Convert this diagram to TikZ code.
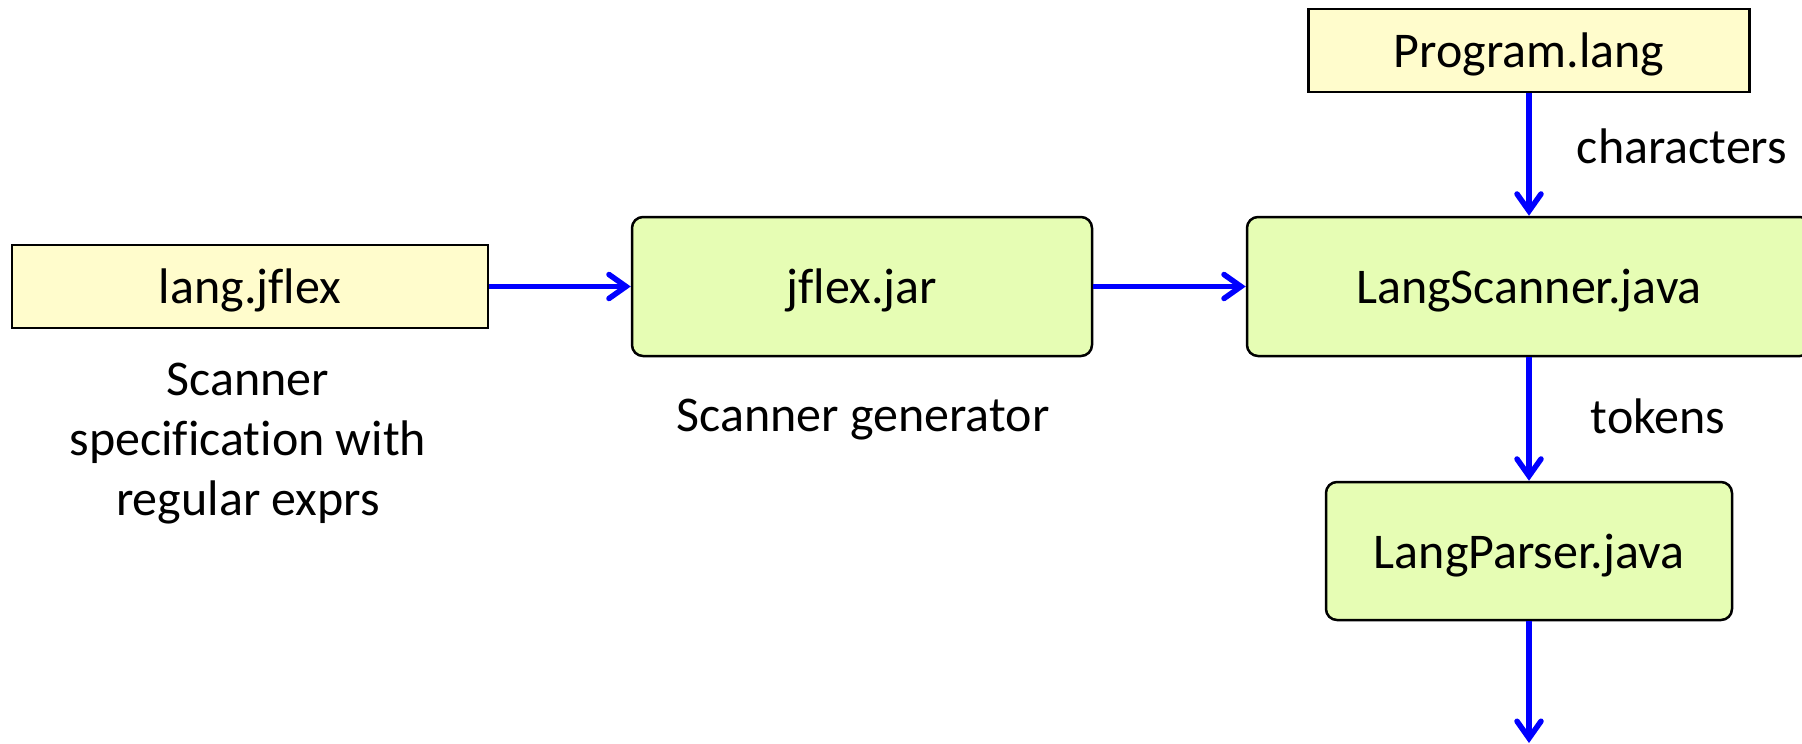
\documentclass[tikz,border=0pt]{standalone}
\usepackage{fontspec}
\setmainfont{Carlito}[Ligatures={NoCommon}]
\usetikzlibrary{arrows.meta}
\definecolor{fileyellow}{RGB}{255,252,204}
\definecolor{progreen}{RGB}{230,253,180}
\definecolor{arrowblue}{RGB}{0,0,255}
\begin{document}
\begin{tikzpicture}[x=1pt,y=-1pt,
  every node/.style={font=\fontsize{50}{60}\selectfont, inner sep=0pt},
  filebox/.style={draw=black, line width=2.5pt, fill=fileyellow, rectangle,
    text height=42pt, text depth=8pt},
  progbox/.style={draw=black, line width=2.5pt, fill=progreen, rectangle,
    rounded corners=11pt, text height=42pt, text depth=8pt},
  flow/.style={draw=arrowblue, line width=5.5pt,
    -{Straight Barb[length=17pt, width=24pt, line cap=round]}},
  lbl/.style={align=center}
]
\useasboundingbox (0,0) rectangle (1802,744);

\node[filebox, minimum width=476pt, minimum height=83pt] (lang) at (250,286.5) {lang.jflex};
\node[progbox, minimum width=460pt, minimum height=139pt] (jflex) at (862,286.5) {jflex.jar};
\node[progbox, minimum width=564pt, minimum height=139pt] (scan) at (1529,286.5) {LangScanner.java};
\node[filebox, minimum width=441pt, minimum height=83pt] (prog) at (1529,50.5) {Program.lang};
\node[progbox, minimum width=406pt, minimum height=138pt] (parser) at (1529,551) {LangParser.java};
\coordinate (out) at (1529,743);

\node[lbl] (spec) at (248,444) {Scanner\\specification with\\regular exprs};
\node[anchor=base] (gen) at (863,431) {Scanner generator};
\node[anchor=base] (chars) at (1682,163) {characters};
\node[anchor=base] (toks) at (1658,433) {tokens};

\draw[flow] (lang.east) -- (jflex.west);
\draw[flow] (jflex.east) -- (jflex.east -| scan.west);
\draw[flow] (prog.south) -- (scan.north);
\draw[flow] (scan.south) -- (parser.north);
\draw[flow] (parser.south) -- (out);
\end{tikzpicture}
\end{document}
